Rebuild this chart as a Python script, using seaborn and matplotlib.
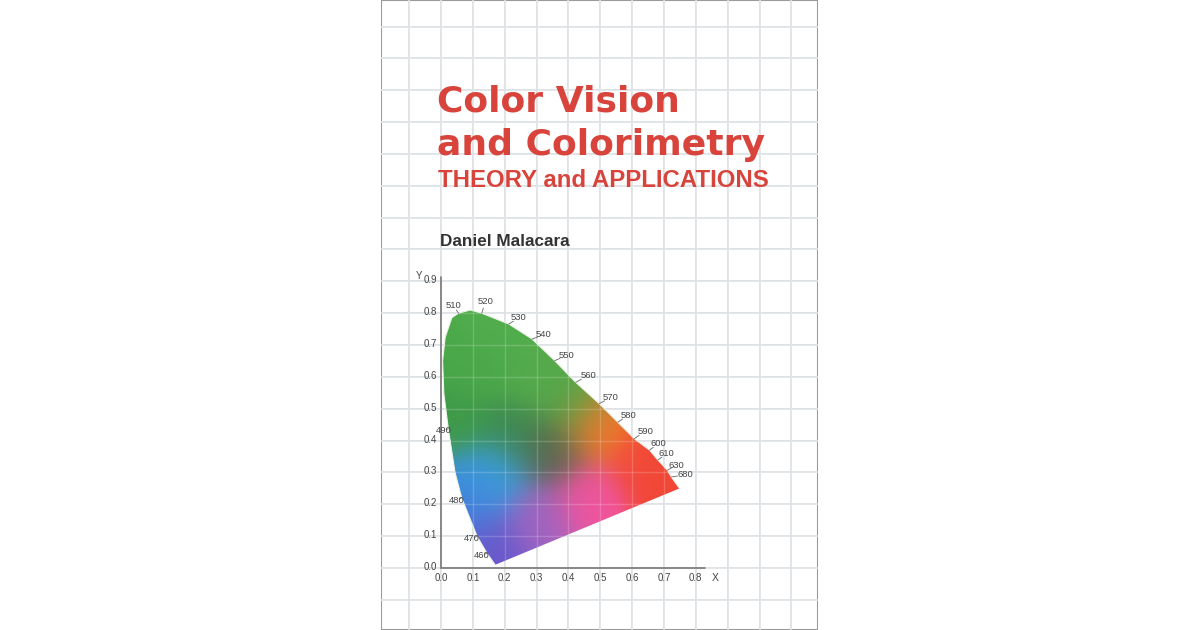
import numpy as np
import matplotlib
matplotlib.use('Agg')
import matplotlib.pyplot as plt
from matplotlib.patches import Polygon
from matplotlib.colors import to_rgb
import seaborn as sns

sns.set_style('white')
plt.rcParams['font.family'] = ['Liberation Sans', 'DejaVu Sans']

# spectral locus as drawn on the cover (x, y chromaticity)
locus_x = [0.170, 0.144, 0.113, 0.065, 0.044, 0.023, 0.009, 0.005, 0.013, 0.034,
           0.055, 0.092, 0.128, 0.213, 0.286, 0.357, 0.423, 0.497, 0.555, 0.607,
           0.655, 0.681, 0.711, 0.723, 0.749]
locus_y = [0.010, 0.047, 0.100, 0.220, 0.300, 0.437, 0.547, 0.650, 0.724, 0.786,
           0.800, 0.810, 0.800, 0.766, 0.719, 0.651, 0.583, 0.516, 0.458, 0.406,
           0.370, 0.339, 0.307, 0.286, 0.250]

# wavelength labels: text, point on locus, label position
wl_text = ['460', '470', '480', '490', '510', '520', '530', '540', '550', '560',
           '570', '580', '590', '600', '610', '630', '680']
wl_px = [0.144, 0.113, 0.065, 0.023, 0.055, 0.128, 0.213, 0.286, 0.357, 0.423,
         0.497, 0.555, 0.607, 0.655, 0.681, 0.711, 0.723]
wl_py = [0.047, 0.100, 0.220, 0.437, 0.800, 0.800, 0.766, 0.719, 0.651, 0.583,
         0.516, 0.458, 0.406, 0.370, 0.339, 0.307, 0.286]
wl_lx = [0.128, 0.098, 0.050, 0.008, 0.040, 0.139, 0.245, 0.323, 0.394, 0.462,
         0.534, 0.588, 0.641, 0.681, 0.709, 0.739, 0.767]
wl_ly = [0.038, 0.092, 0.213, 0.432, 0.823, 0.836, 0.786, 0.732, 0.667, 0.604,
         0.536, 0.479, 0.430, 0.390, 0.359, 0.323, 0.292]

tick_vals_x = [0.0, 0.1, 0.2, 0.3, 0.4, 0.5, 0.6, 0.7, 0.8]
tick_vals_y = [0.0, 0.1, 0.2, 0.3, 0.4, 0.5, 0.6, 0.7, 0.8, 0.9]

# colour anchors of the painted gamut
anchor_xy = [(0.12, 0.62), (0.30, 0.60), (0.05, 0.45), (0.20, 0.75), (0.34, 0.36),
             (0.22, 0.42), (0.49, 0.44), (0.64, 0.33), (0.72, 0.27), (0.46, 0.22),
             (0.30, 0.16), (0.10, 0.26), (0.17, 0.29), (0.15, 0.07), (0.08, 0.18),
             (0.40, 0.52)]
anchor_col = ['#4aa84a', '#55ab4c', '#3f9a48', '#52ad4d', '#5a6450',
              '#3c8a4e', '#f07a2a', '#f24a3a', '#f24636', '#f0559e',
              '#a064c0', '#3a92e0', '#3aa2dc', '#6a58cc', '#4a78d8',
              '#55a548']

W, H, DPI = 1200, 630, 100
fig = plt.figure(figsize=(W / DPI, H / DPI), dpi=DPI)
fig.patch.set_facecolor('white')

# axes = cover area, data coords chosen so 0.1 == one grid square
X0, Y0, S = 441.0, 568.0, 318.5   # pixel origin, pixels per unit
cl, cr = 381, 818
ax = fig.add_axes([cl / W, 0, (cr - cl) / W, 1])
ax.set_xlim((cl - X0) / S, (cr - X0) / S)
ax.set_ylim((Y0 - H) / S, Y0 / S)

# cover border and grid
ax.add_patch(plt.Rectangle((ax.get_xlim()[0], ax.get_ylim()[0]),
                           ax.get_xlim()[1] - ax.get_xlim()[0],
                           ax.get_ylim()[1] - ax.get_ylim()[0],
                           fill=False, ec='#9a9a9a', lw=1.5, zorder=0))
for gx in np.arange(-0.1, 1.2, 0.1):
    ax.axvline(gx, color='#d9dde2', lw=1.2, zorder=0)
    ax.axvline(gx, color='white', lw=1.0, alpha=0.18, zorder=3)
for gy in np.arange(-0.1, 1.8, 0.1):
    ax.axhline(gy, color='#d9dde2', lw=1.2, zorder=0)
    ax.axhline(gy, color='white', lw=1.0, alpha=0.18, zorder=3)

# painted gamut
gx, gy = np.meshgrid(np.linspace(0, 0.76, 400), np.linspace(0, 0.84, 440))
acc = np.zeros(gx.shape + (3,))
wsum = np.zeros(gx.shape)
for (axx, ayy), c in zip(anchor_xy, anchor_col):
    w = np.exp(-((gx - axx) ** 2 + (gy - ayy) ** 2) / (2 * 0.07 ** 2))
    acc += w[..., None] * np.array(to_rgb(c))
    wsum += w
img = acc / wsum[..., None]
im = ax.imshow(img, extent=(0, 0.76, 0, 0.84), origin='lower', zorder=2,
               interpolation='bilinear', aspect='auto')
poly = Polygon(np.column_stack([locus_x, locus_y]), closed=True,
               transform=ax.transData)
im.set_clip_path(poly)
sns.lineplot(x=locus_x + [locus_x[0]], y=locus_y + [locus_y[0]], sort=False,
             ax=ax, color='#eef3e8', lw=0.8, zorder=3)
ax.set_xlim((cl - X0) / S, (cr - X0) / S)
ax.set_ylim((Y0 - H) / S, Y0 / S)
ax.set_axis_off()

# axes of the diagram
ax.plot([0, 0], [0, 0.915], color='#808080', lw=1.3, zorder=4)
ax.plot([0, 0.83], [0, 0], color='#808080', lw=1.3, zorder=4)
for v in tick_vals_x:
    ax.text(v, -0.03, f'{v:.1f}', ha='center', va='center', fontsize=7, color='#444')
for v in tick_vals_y:
    ax.text(-0.012, v + 0.003, f'{v:.1f}', ha='right', va='center', fontsize=7, color='#444')
ax.text(-0.068, 0.918, 'Y', fontsize=7, ha='center', va='center', color='#444')
ax.text(0.862, -0.032, 'X', fontsize=7.5, ha='center', va='center', color='#444')

# wavelength ticks and labels
for t, px, py, lx, ly in zip(wl_text, wl_px, wl_py, wl_lx, wl_ly):
    ax.plot([px, px + (lx - px) * 0.45], [py, py + (ly - py) * 0.45],
            color='#666', lw=0.6, zorder=4)
    ax.text(lx, ly, t, fontsize=6.8, ha='center', va='center', color='#444', zorder=5)

# cover text
red = '#d8443c'
def px2d(x, y):
    return (x - X0) / S, (Y0 - y) / S
big = ['DejaVu Sans']
ax.text(*px2d(437, 112), 'Color Vision', fontsize=26, fontweight='bold', color=red,
        ha='left', va='baseline', family=big)
ax.text(*px2d(437, 155), 'and Colorimetry', fontsize=26, fontweight='bold', color=red,
        ha='left', va='baseline', family=big)
ax.text(*px2d(438, 187), 'THEORY and APPLICATIONS', fontsize=17.3, fontweight='bold',
        color=red, ha='left', va='baseline')
ax.text(*px2d(440, 246), 'Daniel Malacara', fontsize=12.3, fontweight='bold',
        color='#333', ha='left', va='baseline')

fig.savefig('out.png', dpi=DPI, facecolor='white')
